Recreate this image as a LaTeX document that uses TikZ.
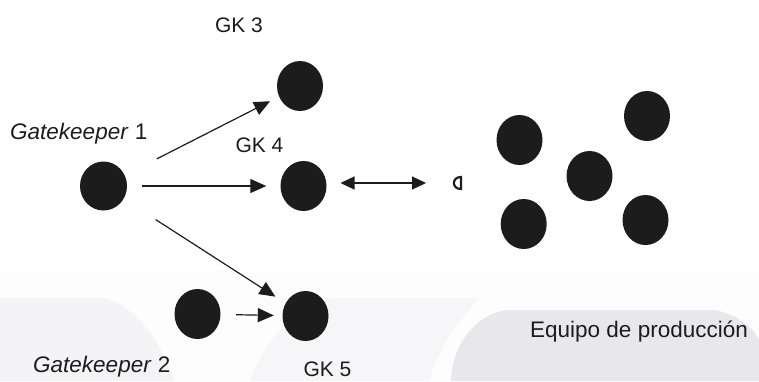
\documentclass[tikz,border=0pt]{standalone}
\usepackage{fontspec}
\setmainfont{Liberation Sans}
\usetikzlibrary{shapes.geometric,arrows.meta}
\definecolor{ink}{HTML}{1C1C1C}
\definecolor{bgA}{HTML}{F4F4F6}
\definecolor{bgB}{HTML}{F6F6F8}
\definecolor{bgC}{HTML}{E8E8EC}
\definecolor{bgD}{HTML}{FDFDFD}
\tikzset{
  dot/.style={ellipse, fill=ink, draw=none, minimum width=46pt, minimum height=50pt, inner sep=0pt},
  conn/.style={line width=1.2pt, draw=ink, -{Triangle[length=16pt,width=14pt]}},
  biconn/.style={line width=1.2pt, draw=ink, {Triangle[length=14pt,width=13pt]}-{Triangle[length=14pt,width=13pt]}},
  gklabel/.style={anchor=base, inner sep=0pt, text=ink, font=\fontsize{21}{25}\selectfont},
  biglabel/.style={anchor=base west, inner sep=0pt, text=ink, font=\fontsize{22.5}{27}\selectfont},
}
\begin{document}
\begin{tikzpicture}[x=1pt,y=-1pt]
\useasboundingbox (0,0) rectangle (759,381);
% faint background shapes
\fill[bgD] (0,270) rectangle (759,381);
\fill[bgA] (0,298) -- (103,298) .. controls (135,305) and (160,340) .. (175,381) -- (0,381) -- cycle;
\fill[bgB] (333,298) -- (479,298) .. controls (455,325) and (435,355) .. (429,381) -- (250,381) .. controls (265,340) and (295,305) .. (333,298) -- cycle;
\fill[bgC] (506,310) -- (715,310) .. controls (740,315) and (755,330) .. (759,340) -- (759,381) -- (451,381) .. controls (452,345) and (475,315) .. (506,310) -- cycle;
% dots
\node[dot, minimum width=47pt, minimum height=49pt] (g1) at (103.5,186) {};
\node[dot] (g3) at (300,86) {};
\node[dot] (g4) at (303.5,186) {};
\node[dot] (g5) at (305.5,316) {};
\node[dot] (g2) at (197.5,314) {};
\node[dot] (p1) at (519.5,140) {};
\node[dot] (p2) at (647,116) {};
\node[dot] (p3) at (589.5,176) {};
\node[dot] (p4) at (523.7,224) {};
\node[dot] (p5) at (645.5,220) {};
% small glyph
\coordinate (dg) at (457,183);
\draw[line width=2.2pt, draw=ink] (461,177) -- (461,189) .. controls (451.5,189) and (451.5,177) .. (461,177) -- cycle;
% labels
\node[gklabel] (l3) at (239,32) {GK 3};
\node[gklabel] (l4) at (259.5,152.5) {GK 4};
\node[gklabel] (l5) at (327.5,376.5) {GK 5};
\node[biglabel] (lg1) at (10,139) {\textit{Gatekeeper} 1};
\node[biglabel] (lg2) at (33,372.5) {\textit{Gatekeeper} 2};
\node[biglabel] (lp) at (530,337) {Equipo de producción};
% connectors
\draw[conn, shorten <=36pt, shorten >=10pt] (g1) -- (g3);
\draw[conn, shorten <=15pt, shorten >=14pt] (g1) -- (g4);
\draw[conn, shorten <=38pt, shorten >=12pt] (g1) -- (g5);
\draw[conn, shorten <=15.5pt, shorten >=8.5pt] (g2) -- (g5);
\draw[biconn, shorten <=37pt, shorten >=31pt] (g4 |- dg) -- (dg);
\end{tikzpicture}
\end{document}
